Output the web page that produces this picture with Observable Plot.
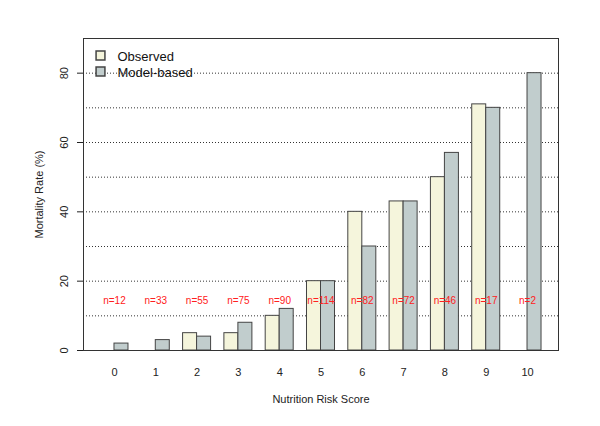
<!DOCTYPE html>
<html>
<head>
<meta charset="utf-8">
<script src="https://cdn.jsdelivr.net/npm/d3@7"></script>
<script src="https://cdn.jsdelivr.net/npm/@observablehq/plot@0.6"></script>
<style>
  html, body { margin: 0; padding: 0; background: #fff; }
  #chart { width: 600px; height: 426px; }
</style>
</head>
<body>
<div id="chart"></div>
<script>
const scores = [0, 1, 2, 3, 4, 5, 6, 7, 8, 9, 10];
const observed = [0, 0, 5, 5, 10, 20, 40, 43, 50, 71, 0];
const modelBased = [2, 3, 4, 8, 12, 20, 30, 43, 57, 70, 80];
const nLabels = ["n=12", "n=33", "n=55", "n=75", "n=90", "n=114", "n=82", "n=72", "n=46", "n=17", "n=2"];
const series = ["Observed", "Model-based"];
const yTicks = [0, 20, 40, 60, 80];
const gridValues = [10, 20, 30, 40, 50, 60, 70, 80];

const colors = {"Observed": "#f5f5dc", "Model-based": "#c1cdcd"};
const barW = 0.339;

const bars = [];
scores.forEach((s, i) => {
  bars.push({score: s, series: "Observed", value: observed[i], side: -1});
  bars.push({score: s, series: "Model-based", value: modelBased[i], side: 0});
});
const nData = scores.map((s, i) => ({score: s, label: nLabels[i]}));

const plot = Plot.plot({
  width: 600,
  height: 426,
  marginLeft: 83,
  marginRight: 42,
  marginTop: 38,
  marginBottom: 76,
  style: {fontFamily: "'Liberation Sans', Arial, sans-serif", fontSize: "11px", color: "#222", background: "#fff"},
  x: {type: "linear", domain: [-0.75, 10.75]},
  y: {domain: [0, 90]},
  marks: [
    Plot.ruleY(gridValues, {stroke: "#333", strokeDasharray: "1,2", strokeWidth: 1}),
    Plot.rect(bars.filter(d => d.value > 0), {
      x1: d => d.score + (d.side === -1 ? -barW : 0),
      x2: d => d.score + (d.side === -1 ? 0 : barW),
      y1: 0,
      y2: "value",
      fill: d => colors[d.series],
      stroke: "#444",
      strokeWidth: 1
    }),
    Plot.text(nData, {x: "score", frameAnchor: "bottom", lineAnchor: "middle", dy: -50, text: "label", fill: "#ff2020", fontSize: 10}),
    Plot.frame({stroke: "#333"}),
    Plot.axisY({ticks: yTicks, tickSize: 6, tickFormat: () => "", label: "Mortality Rate (%)", labelAnchor: "center", labelOffset: 48, labelArrow: "none", fontSize: 11}),
    Plot.text(yTicks, {y: d => d, frameAnchor: "left", dx: -19, rotate: -90, text: d => String(d), textAnchor: "middle", fontSize: 11, fill: "#222"}),
    Plot.axisX({ticks: scores, tickSize: 0, tickPadding: 18, label: "Nutrition Risk Score", labelAnchor: "center", labelOffset: 52, labelArrow: "none", fontSize: 11}),
    // legend
    Plot.dot([series[0]], {frameAnchor: "top-left", dx: 17, dy: 17, symbol: "square", r: 5, fill: colors["Observed"], stroke: "#444"}),
    Plot.dot([series[1]], {frameAnchor: "top-left", dx: 17, dy: 33, symbol: "square", r: 5, fill: colors["Model-based"], stroke: "#444"}),
    Plot.text([series[0]], {frameAnchor: "top-left", lineAnchor: "middle", dx: 34, dy: 18, text: d => d, textAnchor: "start", fontSize: 13, fill: "#111"}),
    Plot.text([series[1]], {frameAnchor: "top-left", lineAnchor: "middle", dx: 34, dy: 34, text: d => d, textAnchor: "start", fontSize: 13, fill: "#111"})
  ]
});
document.getElementById("chart").appendChild(plot);
</script>
</body>
</html>
